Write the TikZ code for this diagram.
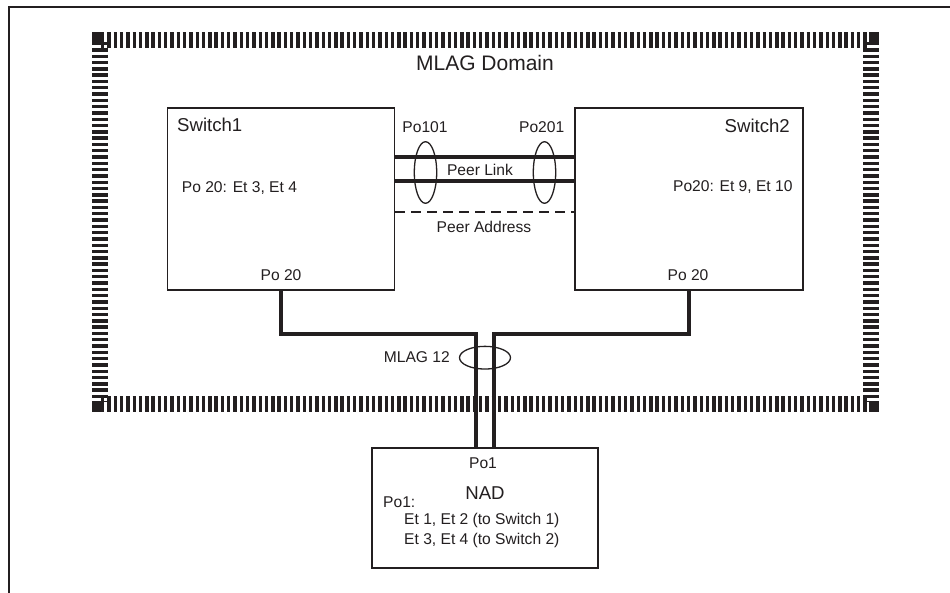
\documentclass[tikz,border=0pt]{standalone}
\usepackage{fontspec}
\setmainfont{Liberation Sans}
\usetikzlibrary{shapes.geometric}
\definecolor{ink}{HTML}{231F20}
\begin{document}
\begin{tikzpicture}[x=1pt,y=-1pt,
  lbl/.style={font=\fontsize{15.6}{18}\selectfont, inner sep=0pt, text=ink},
  ttl/.style={font=\fontsize{18.6}{22}\selectfont, inner sep=0pt, text=ink},
  box/.style={draw=ink, line width=1.3pt, rectangle, inner sep=0pt},
  link/.style={draw=ink, line width=4pt},
  peer/.style={draw=ink, line width=3.4pt},
  peeraddr/.style={draw=ink, line width=2pt, dash pattern=on 10pt off 6pt},
  hatch/.style={draw=ink, line width=16pt, dash pattern=on 3.4pt off 2.9pt},
  lag/.style={draw=ink, line width=1.3pt, ellipse, inner sep=0pt}]
\useasboundingbox (0,0) rectangle (950,593);
\fill[white] (0,0) rectangle (950,593);
% outer frame
\draw[ink, line width=2.6pt, line join=miter] (9,600) -- (9,7) -- (960,7);
% hatched MLAG domain border
\draw[hatch] (101,40) -- (869,40);
\draw[hatch] (101,403.5) -- (869,403.5);
\draw[hatch] (100,42) -- (100,402);
\draw[hatch] (871,42) -- (871,402);
\fill[ink] (92,32) rectangle (101,42);
\fill[ink] (869,32) rectangle (879,42);
\fill[ink] (92,402) rectangle (101,412);
\fill[ink] (869,402) rectangle (879,412);
\node[ttl, font=\fontsize{21}{25}\selectfont] (dom) at (485,63) {MLAG Domain};
% boxes
\node[box, minimum width=227pt, minimum height=182pt] (s1) at (281,199) {};
\node[box, minimum width=228pt, minimum height=182pt] (s2) at (689,199) {};
\node[box, minimum width=226pt, minimum height=120pt] (nad) at (485,508) {};
% switch texts
\node[ttl, anchor=west] (s1t) at (177,125) {Switch1};
\node[lbl, anchor=west] (s1p) at (181.7,188) {Po 20: Et 3, Et 4};
\node[lbl] (s1po) at (281,275) {Po 20};
\node[ttl, anchor=east] (s2t) at (790,126) {Switch2};
\node[lbl, anchor=east] (s2p) at (792.7,187) {Po20: Et 9, Et 10};
\node[lbl] (s2po) at (688,275) {Po 20};
% NAD texts
\node[lbl] (nadpo) at (483,463) {Po1};
\node[ttl] (nadt) at (485,493) {NAD};
\node[lbl, anchor=west] (nadp) at (383,502) {Po1:};
\node[lbl, anchor=west] (nade1) at (404,520) {Et 1, Et 2 (to Switch 1)};
\node[lbl, anchor=west] (nade2) at (404,540) {Et 3, Et 4 (to Switch 2)};
% peer link
\draw[peer] ([yshift=42pt]s1.east) -- ([yshift=42pt]s2.west);
\draw[peer] ([yshift=18pt]s1.east) -- ([yshift=18pt]s2.west);
\draw[peeraddr] ([yshift=-13pt]s1.east) -- ([yshift=-13pt]s2.west);
\node[lbl] (pl) at (480,170) {Peer Link};
\node[lbl] (pa) at (484,227) {Peer Address};
\node[lag, minimum width=22.4pt, minimum height=61.6pt] (e101) at (425.5,172.5) {};
\node[lag, minimum width=22.4pt, minimum height=61.6pt] (e201) at (544.5,172.5) {};
\node[lbl] (p101) at (425,127) {Po101};
\node[lbl] (p201) at (541.7,127) {Po201};
% MLAG links
\draw[link] (s1.south) |- ([xshift=-9pt,yshift=113pt]nad.north) -- ([xshift=-9pt]nad.north);
\draw[link] (s2.south) |- ([xshift=9pt,yshift=113pt]nad.north) -- ([xshift=9pt]nad.north);
\node[lag, minimum width=51pt, minimum height=22.7pt] (e12) at (485,357.7) {};
\node[lbl, anchor=east] (m12) at (450,357) {MLAG 12};
\end{tikzpicture}
\end{document}
